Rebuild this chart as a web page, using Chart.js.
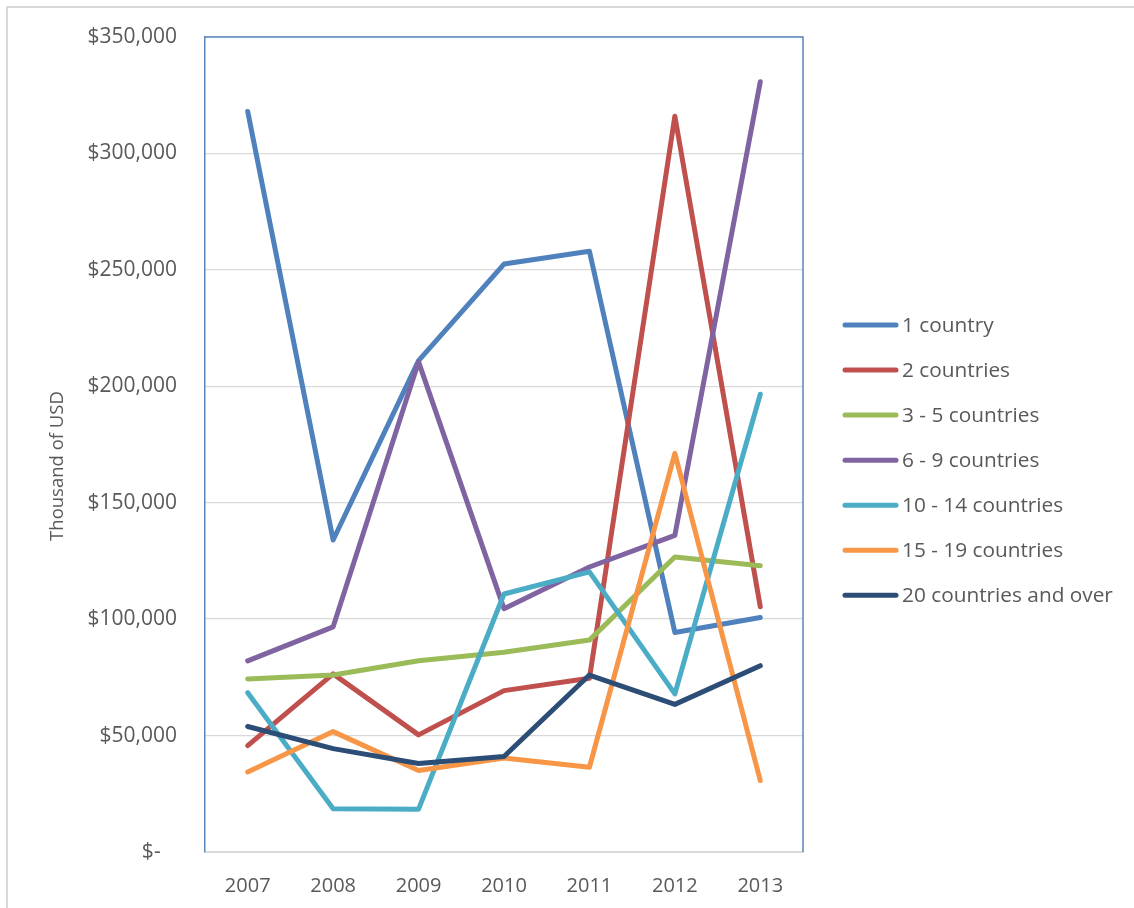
<!DOCTYPE html>
<html>
<head>
<meta charset="utf-8">
<title>Thousand of USD by number of countries</title>
<script src="https://cdn.jsdelivr.net/npm/chart.js@4.4.1/dist/chart.umd.min.js"></script>
<style>
  html, body { margin: 0; padding: 0; background: #fff; }
  #wrap { width: 1134px; height: 908px; }
</style>
</head>
<body>
<div id="wrap"><canvas id="myChart" width="1134" height="908"></canvas></div>
<script>
'use strict';

// categories
const years = ['2007', '2008', '2009', '2010', '2011', '2012', '2013'];

// series values (thousand of USD)
const oneCountry = [318000, 134000, 211000, 252500, 258000, 94300, 100700];
const twoCountries = [45700, 76500, 50300, 69300, 74600, 316000, 105300];
const threeToFive = [74300, 76000, 82100, 85800, 91000, 126700, 122900];
const sixToNine = [82100, 96700, 210500, 104500, 122400, 136000, 330800];
const tenToFourteen = [68400, 18600, 18400, 110800, 120300, 67900, 196600];
const fifteenToNineteen = [34400, 51700, 35000, 40400, 36400, 171200, 30700];
const twentyAndOver = [53900, 44400, 38000, 41000, 76000, 63400, 80000];

const seriesNames = ['1 country', '2 countries', '3 - 5 countries', '6 - 9 countries',
    '10 - 14 countries', '15 - 19 countries', '20 countries and over'];
const seriesValues = [oneCountry, twoCountries, threeToFive, sixToNine,
    tenToFourteen, fifteenToNineteen, twentyAndOver];
const seriesColors = ['#4F81BD', '#C0504D', '#9BBB59', '#8064A2', '#4BACC6', '#F79646', '#2C4D75'];

// y axis
const yMin = 0;
const yMax = 350000;
const yStep = 50000;
const yTitle = 'Thousand of USD';

const textColor = '#595959';
const gridColor = '#d9d9d9';
const frameBlue = '#5A86C0';

Chart.defaults.font.family = "'Open Sans', 'Liberation Sans', sans-serif";
Chart.defaults.color = textColor;

function money(value) {
    if (value === 0) {
        return '$-   ';
    }
    return '$' + value.toLocaleString('en-US');
}

// outer frame, top/right plot border, legend and axis title
const decorations = {
    id: 'decorations',
    beforeDraw(chart) {
        const ctx = chart.ctx;
        ctx.save();
        ctx.strokeStyle = gridColor;
        ctx.lineWidth = 2;
        ctx.beginPath();
        ctx.moveTo(7, chart.height);
        ctx.lineTo(7, 7);
        ctx.lineTo(chart.width, 7);
        ctx.stroke();
        ctx.restore();
    },
    beforeDatasetsDraw(chart) {
        const ctx = chart.ctx;
        const area = chart.chartArea;
        ctx.save();
        ctx.strokeStyle = frameBlue;
        ctx.lineWidth = 1.5;
        ctx.beginPath();
        ctx.moveTo(area.left, area.top);
        ctx.lineTo(area.right, area.top);
        ctx.lineTo(area.right, area.bottom);
        ctx.stroke();
        ctx.restore();
    },
    afterDraw(chart) {
        const ctx = chart.ctx;
        ctx.save();

        // legend
        ctx.font = "20.8px 'Open Sans'";
        ctx.textBaseline = 'middle';
        ctx.textAlign = 'left';
        chart.data.datasets.forEach((dataset, i) => {
            const y = 325 + i * 45.05;
            ctx.strokeStyle = dataset.borderColor;
            ctx.lineWidth = 5;
            ctx.lineCap = 'round';
            ctx.beginPath();
            ctx.moveTo(845, y);
            ctx.lineTo(896, y);
            ctx.stroke();
            ctx.fillStyle = textColor;
            ctx.fillText(dataset.label, 902, y + 1);
        });

        // axis title
        ctx.translate(58, 466);
        ctx.rotate(-Math.PI / 2);
        ctx.textAlign = 'center';
        ctx.font = "18.5px 'Open Sans'";
        ctx.fillStyle = textColor;
        ctx.fillText(yTitle, 0, 0);
        ctx.restore();
    }
};

const datasets = seriesNames.map((name, i) => ({
    label: name,
    data: seriesValues[i],
    borderColor: seriesColors[i],
    backgroundColor: seriesColors[i],
    // later series on top, like the original
    order: seriesNames.length - i
}));

var ctx = document.getElementById('myChart').getContext('2d');
var chart = new Chart(ctx, {
    type: 'line',
    data: {
        labels: years,
        datasets: datasets
    },
    options: {
        responsive: false,
        animation: false,
        devicePixelRatio: 1,
        layout: {
            padding: { top: 37, right: 331, bottom: 0, left: 0 }
        },
        elements: {
            line: {
                tension: 0,
                borderWidth: 5,
                borderCapStyle: 'round',
                borderJoinStyle: 'round'
            },
            point: { radius: 0, hoverRadius: 0 }
        },
        scales: {
            x: {
                offset: true,
                grid: { display: false },
                border: { color: gridColor, width: 2 },
                ticks: { font: { size: 20 }, padding: 14, maxRotation: 0 },
                afterFit: (scale) => { scale.height = 56; }
            },
            y: {
                min: yMin,
                max: yMax,
                // invisible tick marks keep the labels away from the axis
                grid: { color: gridColor, lineWidth: 1.3, tickLength: 24, tickColor: 'rgba(0,0,0,0)' },
                border: { color: frameBlue, width: 1.5 },
                ticks: {
                    stepSize: yStep,
                    font: { size: 21 },
                    padding: 4,
                    callback: (value) => money(value)
                },
                afterFit: (scale) => { scale.width = 205; }
            }
        },
        plugins: {
            legend: { display: false },
            tooltip: { enabled: false }
        }
    },
    plugins: [decorations]
});
</script>
</body>
</html>
